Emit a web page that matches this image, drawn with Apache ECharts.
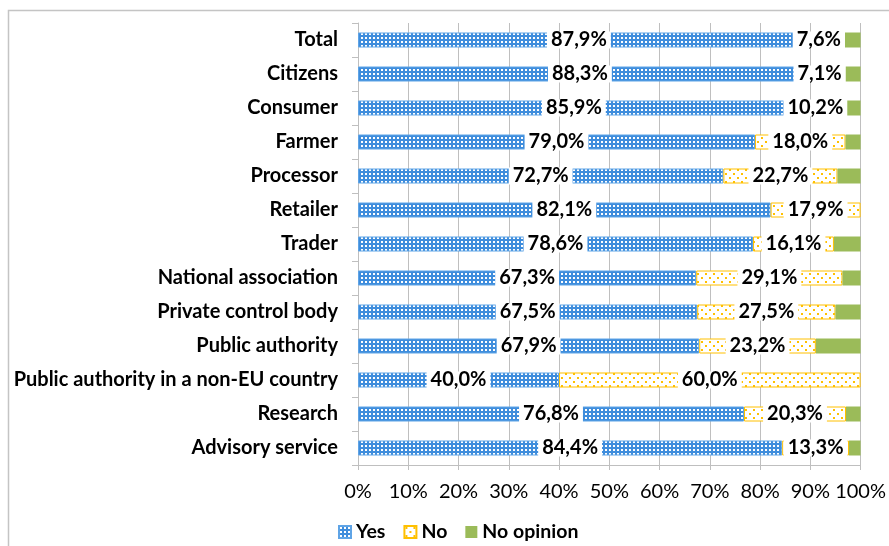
<!DOCTYPE html>
<html>
<head>
<meta charset="utf-8">
<script src="https://cdn.jsdelivr.net/npm/echarts@6/dist/echarts.min.js"></script>
<style>
html,body{margin:0;padding:0;background:#fff;}
#chart{width:889px;height:546px;}
</style>
</head>
<body>
<div id="chart"></div>
<script>
const categories = ['Total','Citizens','Consumer','Farmer','Processor','Retailer','Trader','National association','Private control body','Public authority','Public authority in a non-EU country','Research','Advisory service'];
const yesValues = [87.9,88.3,85.9,79.0,72.7,82.1,78.6,67.3,67.5,67.9,40.0,76.8,84.4];
const noValues = [7.6,7.1,10.2,18.0,22.7,17.9,16.1,29.1,27.5,23.2,60.0,20.3,13.3];
const noOpinionValues = [4.5,4.6,3.9,3.0,4.6,0,5.3,3.6,5.0,8.9,0,2.9,2.3];
const xTicks = [0,10,20,30,40,50,60,70,80,90,100];

function makeYesPattern(){
  const c = document.createElement('canvas');
  c.width = 4; c.height = 4;
  const g = c.getContext('2d');
  g.fillStyle = '#3f8ddc'; g.fillRect(0,0,4,4);
  g.fillStyle = '#ffffff'; g.fillRect(1,1,2,2);
  return c;
}
function makeNoPattern(){
  const c = document.createElement('canvas');
  c.width = 8; c.height = 8;
  const g = c.getContext('2d');
  g.fillStyle = '#ffffff'; g.fillRect(0,0,8,8);
  g.fillStyle = '#ffc000'; g.fillRect(1,1,2,2); g.fillRect(5,5,2,2);
  return c;
}
const FONT = 'Lato';
const fmt = p => (p.value > 0 ? p.value.toFixed(1).replace('.', ',') + '%' : '');
const labelStyle = {
  show: true, position: 'inside', formatter: fmt,
  color: '#000', fontFamily: FONT, fontWeight: 'bold', fontSize: 20,
  backgroundColor: '#fff', padding: [0,4], lineHeight: 17
};

const chart = echarts.init(document.getElementById('chart'), null, {renderer:'canvas'});
chart.setOption({
  animation: false,
  backgroundColor: '#fff',
  graphic: [{type:'rect', shape:{x:8.5,y:10.5,width:1000,height:1000}, style:{fill:'none', stroke:'#c4c4c4', lineWidth:1.5}, silent:true, z:-1}],
  grid: {left:358, right:24, top:23, bottom:81},
  legend: {
    left: 333, top: 517, itemWidth: 12, itemHeight: 12, itemGap: 18,
    icon: 'rect',
    textStyle: {fontFamily: FONT, fontWeight:'bold', fontSize:19.5, color:'#000'},
    data: ['Yes','No','No opinion']
  },
  xAxis: {
    type:'value', min:0, max:100, interval:10,
    axisLine:{show:true, lineStyle:{color:'#bfbfbf'}},
    axisTick:{show:true, length:5, lineStyle:{color:'#bfbfbf'}},
    splitLine:{show:true, lineStyle:{color:'#bfbfbf'}},
    axisLabel:{formatter: v => xTicks.includes(v) ? v + '%' : '', color:'#000', fontFamily:FONT, fontSize:20, margin:17}
  },
  yAxis: {
    type:'category', data: categories, inverse:true,
    axisLine:{show:true, lineStyle:{color:'#bfbfbf'}},
    axisTick:{show:true, length:6, lineStyle:{color:'#bfbfbf'}},
    axisLabel:{color:'#000', fontFamily:FONT, fontWeight:'bold', fontSize:20, margin:20}
  },
  series: [
    {name:'Yes', type:'bar', stack:'a', data: yesValues, barWidth:15,
     itemStyle:{color:{image: makeYesPattern(), repeat:'repeat'}, borderColor:'#5fa4e6', borderWidth:1},
     label: labelStyle},
    {name:'No', type:'bar', stack:'a', data: noValues, barWidth:15,
     itemStyle:{color:{image: makeNoPattern(), repeat:'repeat'}, borderColor:'#ffc000', borderWidth:1},
     label: labelStyle},
    {name:'No opinion', type:'bar', stack:'a', data: noOpinionValues, barWidth:15,
     itemStyle:{color:'#9bbb59'},
     label:{show:false}}
  ]
});
</script>
</body>
</html>
